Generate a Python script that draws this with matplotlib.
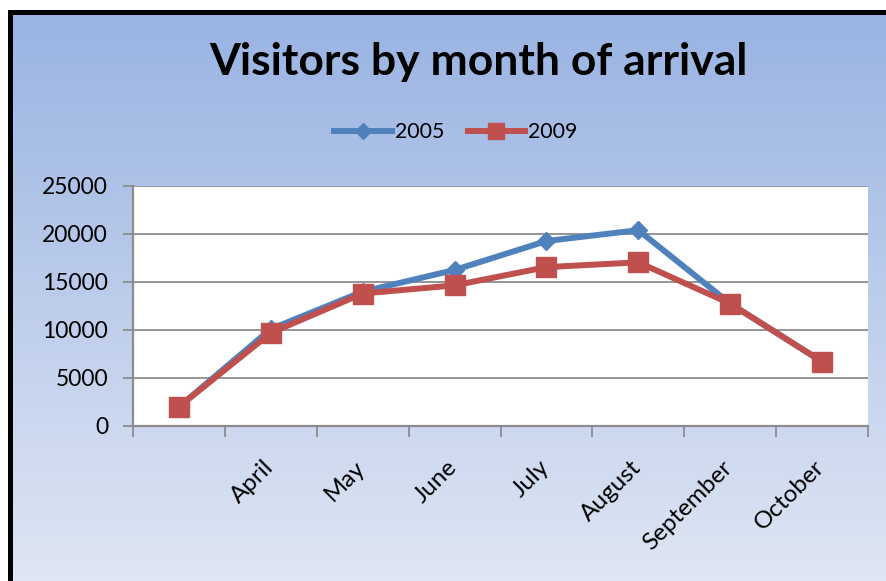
import numpy as np
import matplotlib.pyplot as plt
from matplotlib.lines import Line2D

months = ['', 'April', 'May', 'June', 'July', 'August', 'September', 'October']
visitors_2005 = [2000, 10100, 14000, 16250, 19270, 20400, 12750, 6700]
visitors_2009 = [2000, 9700, 13800, 14650, 16550, 17050, 12750, 6700]
y_ticks = [0, 5000, 10000, 15000, 20000, 25000]

blue = '#4f81bd'
red = '#c0504d'

plt.rcParams['font.family'] = ['Lato', 'DejaVu Sans']

W, H = 886, 581
fig = plt.figure(figsize=(W / 100, H / 100), dpi=100)
fig.patch.set_facecolor('white')

# chart frame: vertical gradient with a black edge on top and left
bg = fig.add_axes([0, 0, 1, 1], zorder=-5)
bg.set_xlim(0, W)
bg.set_ylim(H, 0)
bg.axis('off')
top_c = np.array([0x99, 0xb3, 0xe2]) / 255
bot_c = np.array([0xdf, 0xe6, 0xf4]) / 255
t = np.linspace(0, 1, 256)[:, None, None]
grad = top_c * (1 - t) + bot_c * t
grad = np.repeat(grad, 2, axis=1)
bg.imshow(grad, extent=[11, W, H, 12], aspect='auto', interpolation='bilinear')
bg.plot([10.5, 10.5, W], [H, 11.5, 11.5], color='black', lw=3.6,
        solid_joinstyle='miter', solid_capstyle='butt')

ax = fig.add_axes([133 / W, 1 - 426 / H, 735 / W, 240 / H])
ax.set_facecolor('white')
x = np.arange(len(months))
ax.plot(x, visitors_2005, color=blue, lw=4.3, marker='D', markersize=9.5,
        label='2005', zorder=3)
ax.plot(x, visitors_2009, color=red, lw=4.3, marker='s', markersize=14,
        label='2009', zorder=4)

ax.set_xlim(-0.5, len(months) - 0.5)
ax.set_ylim(0, 25000)
ax.set_yticks(y_ticks)
ax.set_yticklabels([str(v) for v in y_ticks], fontsize=16.5)
ax.yaxis.grid(True, color='#8c8c8c', lw=1.3)
ax.set_axisbelow(True)

# category boundaries get tick marks, labels sit at the centres
ax.set_xticks(np.arange(len(months) + 1) - 0.5)
ax.set_xticklabels([])
ax.tick_params(axis='x', length=8, width=1.3, color='#8c8c8c', direction='out')
ax.tick_params(axis='y', length=7, width=1.3, color='#8c8c8c', pad=11)
for i, m in enumerate(months):
    ax.text(i - 0.09, -3200, m, rotation=45, ha='right', va='top',
            rotation_mode='anchor', fontsize=17.5)

for side in ['top', 'right']:
    ax.spines[side].set_visible(False)
for side in ['left', 'bottom']:
    ax.spines[side].set_color('#8c8c8c')
    ax.spines[side].set_linewidth(1.6)

fig.text(478 / W, 1 - 62 / H, 'Visitors by month of arrival', ha='center',
         va='center', fontsize=32, fontweight='bold')

handles = [Line2D([], [], color=blue, lw=4.3, marker='D', markersize=8),
           Line2D([], [], color=red, lw=4.3, marker='s', markersize=11)]
fig.legend(handles, ['2005', '2009'], loc='center', ncol=2,
           bbox_to_anchor=(456 / W, 1 - 132 / H), frameon=False,
           fontsize=15.3, handlelength=2.7, handletextpad=0.15, columnspacing=1.1)

fig.savefig('out.png', dpi=100)
